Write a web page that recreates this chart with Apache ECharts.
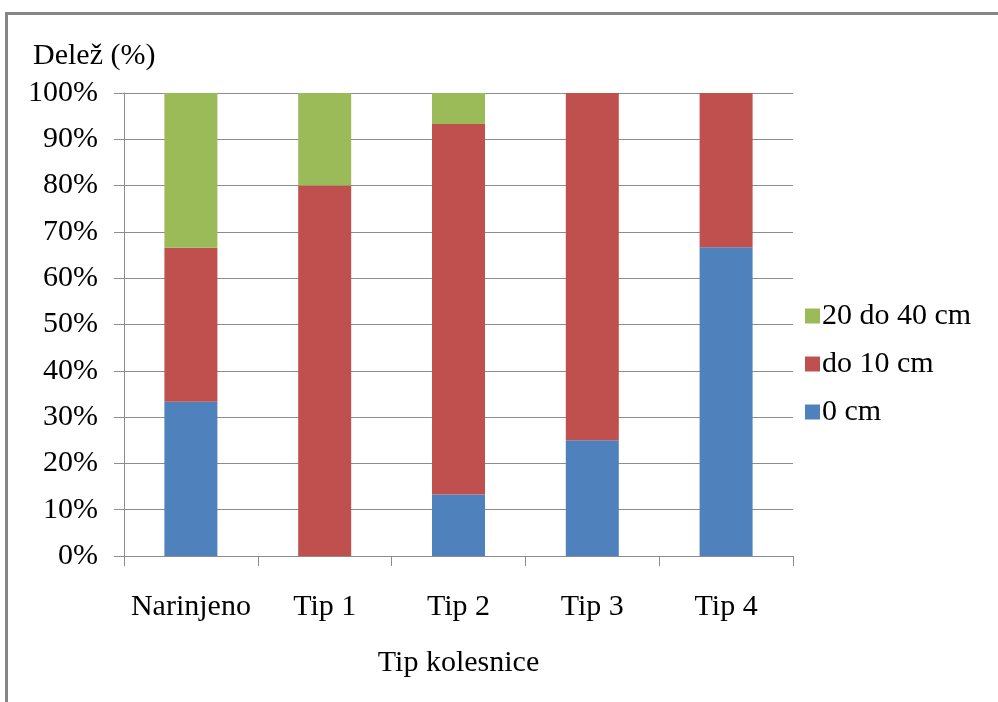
<!DOCTYPE html>
<html>
<head>
<meta charset="utf-8">
<script src="https://cdn.jsdelivr.net/npm/echarts@6/dist/echarts.min.js"></script>
<style>
  html, body { margin: 0; padding: 0; background: #fff; }
  #chart { width: 998px; height: 702px; }
</style>
</head>
<body>
<div id="chart"></div>
<script>
// Wheel-rut depth share by vehicle type
const categories = ['Narinjeno', 'Tip 1', 'Tip 2', 'Tip 3', 'Tip 4'];
const depth0 = [33.3, 0, 13.3, 25, 66.7];        // 0 cm
const depthTo10 = [33.3, 80, 80, 75, 33.3];      // do 10 cm
const depth20to40 = [33.4, 20, 6.7, 0, 0];       // 20 do 40 cm
const yTicks = [0, 10, 20, 30, 40, 50, 60, 70, 80, 90, 100];

const font = "'Liberation Serif', 'Times New Roman', serif";
const fs = 30;
const txt = '#000';

const chart = echarts.init(document.getElementById('chart'));
chart.setOption({
  backgroundColor: '#fff',
  animation: false,
  grid: { left: 124, right: 205, top: 93, bottom: 146 },
  legend: {
    orient: 'vertical',
    left: 800,
    top: 296,
    itemWidth: 15,
    itemHeight: 15,
    itemGap: 18,
    data: ['20 do 40 cm', 'do 10 cm', '0 cm'],
    textStyle: { fontFamily: font, fontSize: fs, color: txt, padding: [0, 0, 0, -3] },
    icon: 'rect'
  },
  xAxis: {
    type: 'category',
    data: categories,
    name: 'Tip kolesnice',
    nameLocation: 'middle',
    nameGap: 92,
    nameTextStyle: { fontFamily: font, fontSize: fs, color: txt },
    axisLine: { lineStyle: { color: '#8c8c8c', width: 1 } },
    axisTick: { show: true, interval: 0, length: 10, lineStyle: { color: '#8c8c8c' } },
    axisLabel: { interval: 0, fontFamily: font, fontSize: fs, color: txt, margin: 36 }
  },
  yAxis: {
    type: 'value',
    min: 0,
    max: 100,
    interval: 10,
    axisLine: { show: true, lineStyle: { color: '#8c8c8c', width: 1 } },
    axisTick: { show: true, length: 10, lineStyle: { color: '#8c8c8c' } },
    splitLine: { lineStyle: { color: '#8c8c8c', width: 1 } },
    axisLabel: {
      fontFamily: font, fontSize: fs, color: txt, margin: 26,
      formatter: v => (yTicks.includes(v) ? v + '%' : '')
    }
  },
  graphic: [
    {
      type: 'rect',
      shape: { x: 6.5, y: 13.5, width: 1100, height: 800 },
      style: { fill: 'none', stroke: '#868686', lineWidth: 3 },
      silent: true
    },
    {
      type: 'text',
      left: 33,
      top: 41,
      style: { text: 'Delež (%)', font: fs + 'px ' + font, fill: txt }
    }
  ],
  series: [
    { name: '0 cm', type: 'bar', stack: 'd', barWidth: 53, data: depth0, itemStyle: { color: '#4F81BD' } },
    { name: 'do 10 cm', type: 'bar', stack: 'd', barWidth: 53, data: depthTo10, itemStyle: { color: '#C0504D' } },
    { name: '20 do 40 cm', type: 'bar', stack: 'd', barWidth: 53, data: depth20to40, itemStyle: { color: '#9BBB59' } }
  ]
});
</script>
</body>
</html>
